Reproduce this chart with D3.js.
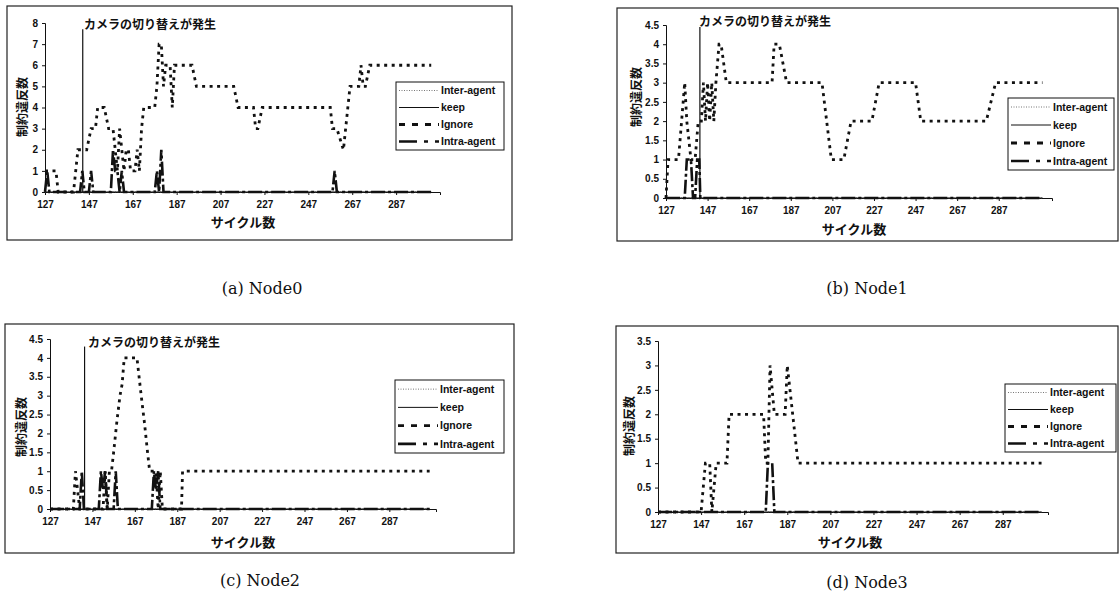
<!DOCTYPE html>
<html lang="ja">
<head>
<meta charset="utf-8">
<title>制約違反数</title>
<script src="https://cdn.jsdelivr.net/npm/d3@7"></script>
<style>
  body { margin: 0; background: #fff; }
  svg { display: block; }
  .tick text { font-family: "Liberation Sans", Arial, sans-serif; font-weight: bold; font-size: 10px; fill: #111; }
  .tick line, .domain { stroke: #111; }
</style>
</head>
<body>
<script>
var W = 1120, H = 610;

// shared labels
var xTickValues = [127, 147, 167, 187, 207, 227, 247, 267, 287];
var seriesNames = ['Inter-agent', 'keep', 'Ignore', 'Intra-agent'];
var switchText = 'カメラの切り替えが発生';
var xTitleText = 'サイクル数';
var yTitleText = '制約違反数';

// (a) Node0
var node0YTicks = [0, 1, 2, 3, 4, 5, 6, 7, 8];
var node0Ignore = [[127,1],[132,1],[133,0],[140,0],[141,1],[142,2],[146,2],[148,3],[150,3],[151,4],[154,4],[156,3],[158,3],[159,2],[160,1],[161,3],[162,2],[163,1],[164,2],[165,2],[166,1],[168,1],[169,2],[170,1],[171,3],[172,4],[177,4],[178,5],[179,7],[180,7],[181,5],[182,6],[184,6],[185,4],[186,6],[194,6],[196,5],[213,5],[215,4],[222,4],[223,3],[224,3],[226,4],[257,4],[258,3],[260,3],[263,2],[264,3],[265,4],[266,5],[270,5],[271,6],[272,5],[273,5],[275,6],[303,6]];
var node0Intra = [[127,0],[128,1],[129,0],[143,0],[144,1],[145,0],[147,0],[148,1],[149,0],[157,0],[158,2],[159,1],[160,1],[161,0],[162,1],[163,0],[177,0],[178,1],[179,0],[180,2],[181,0],[258,0],[259,1],[260,0],[303,0]];
var node0Inter = [[127,0],[303,0]];
var node0Keep = [[127,0],[303,0]];
var node0Switch = [144.2, 7.7];

// (b) Node1
var node1YTicks = [0, 0.5, 1, 1.5, 2, 2.5, 3, 3.5, 4, 4.5];
var node1Ignore = [[127,0],[128,1],[133,1],[134.5,2],[136,3],[137,2],[139,1],[141,1],[142.5,2],[144,2],[145,3],[146,2],[147,3],[148,2],[149,3],[150,2],[151,3],[152.5,4],[153.5,4],[156,3],[178,3],[179,4],[181.5,4],[185,3],[202,3],[206.5,1],[212.5,1],[216,2],[226,2],[229.5,3],[247,3],[249.5,2],[281,2],[285.5,3],[308,3]];
var node1Intra = [[127,0],[136,0],[137,1],[139,1],[140,0],[141,0],[142,1],[143,1],[143.5,0],[308,0]];
var node1Inter = [[127,0],[308,0]];
var node1Keep = [[127,0],[308,0]];
var node1Switch = [143.3, 4.45];

// (c) Node2
var node2YTicks = [0, 0.5, 1, 1.5, 2, 2.5, 3, 3.5, 4, 4.5];
var node2Ignore = [[127,0],[138,0],[139,1],[140,0.5],[141,0],[152,0],[153,1],[154,0],[155,1],[156,1],[157,1.5],[158.5,2.3],[160,3],[161,3.3],[162,4],[168,4],[170,3],[171.5,2.3],[173,1.5],[174,1],[177,1],[178,0],[179,1],[180,0],[189,0],[189.5,1],[306,1]];
var node2Intra = [[127,0],[141,0],[142,1],[143,0],[150,0],[151,1],[152,0.5],[153,1],[154,0],[157,0],[158,1],[159,0],[175,0],[176,1],[177,0.5],[178,1],[179,0],[306,0]];
var node2Inter = [[127,0],[306,0]];
var node2Keep = [[127,0],[306,0]];
var node2Switch = [143.3, 4.3];

// (d) Node3
var node3YTicks = [0, 0.5, 1, 1.5, 2, 2.5, 3, 3.5];
var node3Ignore = [[127,0],[147,0],[149,1],[151,1],[152,0],[154,1],[159,1],[160,2],[176,2],[177,1],[178,1],[179,3],[181,2],[186,2],[187,3],[192,1],[305,1]];
var node3Intra = [[127,0],[177,0],[178,1],[180,1],[181,0],[305,0]];
var node3Inter = [[127,0],[305,0]];
var node3Keep = [[127,0],[305,0]];
var node3Switch = null;

var panels = [
  { caption: '(a) Node0', frame: [7, 6, 512, 240], xr: [45, 440], xEnd: 307, yr: [192, 23], yMax: 8,
    yTicks: node0YTicks, ignore: node0Ignore, intra: node0Intra, inter: node0Inter, keep: node0Keep, sw: node0Switch,
    legend: [396, 82, 504, 150], note: [84, 25], yTitle: [23, 107], xTitle: [243, 222], cap: [262, 294] },
  { caption: '(b) Node1', frame: [617, 8, 1118, 241], xr: [666, 1052], xEnd: 312.6, yr: [198, 25], yMax: 4.5,
    yTicks: node1YTicks, ignore: node1Ignore, intra: node1Intra, inter: node1Inter, keep: node1Keep, sw: node1Switch,
    legend: [1008, 98, 1114, 170], note: [699, 22], yTitle: [637, 97], xTitle: [854, 229], cap: [867, 294] },
  { caption: '(c) Node2', frame: [5, 324, 514, 553], xr: [50, 436], xEnd: 309, yr: [509, 339], yMax: 4.5,
    yTicks: node2YTicks, ignore: node2Ignore, intra: node2Intra, inter: node2Inter, keep: node2Keep, sw: node2Switch,
    legend: [395, 380, 504, 453], note: [88, 343], yTitle: [22, 427], xTitle: [243, 542], cap: [260, 586] },
  { caption: '(d) Node3', frame: [616, 326, 1118, 553], xr: [658, 1048], xEnd: 308, yr: [512, 341], yMax: 3.5,
    yTicks: node3YTicks, ignore: node3Ignore, intra: node3Intra, inter: node3Inter, keep: node3Keep, sw: node3Switch,
    legend: [1005, 384, 1116, 452], note: null, yTitle: [630, 426], xTitle: [850, 542], cap: [867, 588] }
];

// line styles for the four series
var styles = {
  'Inter-agent': { w: 1, dash: '1,1.5', color: '#777' },
  'keep':        { w: 1, dash: null, color: '#111' },
  'Ignore':      { w: 2.8, dash: '3,4.5', color: '#111' },
  'Intra-agent': { w: 2.6, dash: '14,3,3,3', color: '#111' }
};

var jp = '"Noto Sans CJK JP", sans-serif';

var svg = d3.select('body').append('svg')
  .attr('width', W)
  .attr('height', H);

panels.forEach(function(p) {
  var g = svg.append('g');

  g.append('rect')
    .attr('x', p.frame[0]).attr('y', p.frame[1])
    .attr('width', p.frame[2] - p.frame[0])
    .attr('height', p.frame[3] - p.frame[1])
    .attr('fill', 'none')
    .attr('stroke', '#222')
    .attr('stroke-width', 1.2);

  var x = d3.scaleLinear().domain([127, p.xEnd]).range(p.xr);
  var y = d3.scaleLinear().domain([0, p.yMax]).range(p.yr);

  var xAxis = d3.axisBottom(x)
    .tickValues(xTickValues)
    .tickSize(3)
    .tickPadding(6)
    .tickFormat(d3.format('d'));
  var yAxis = d3.axisLeft(y)
    .tickValues(p.yTicks)
    .tickSize(3)
    .tickPadding(4)
    .tickFormat(function(d) { return String(d); });

  g.append('g')
    .attr('transform', 'translate(0,' + y(0) + ')')
    .call(xAxis);
  g.append('g')
    .attr('transform', 'translate(' + p.xr[0] + ',0)')
    .call(yAxis);

  var line = d3.line()
    .x(function(d) { return x(d[0]); })
    .y(function(d) { return y(d[1]); });

  var order = [['Inter-agent', p.inter], ['keep', p.keep], ['Ignore', p.ignore], ['Intra-agent', p.intra]];
  order.forEach(function(s) {
    var st = styles[s[0]];
    g.append('path')
      .datum(s[1])
      .attr('d', line)
      .attr('fill', 'none')
      .attr('stroke', st.color)
      .attr('stroke-width', st.w)
      .attr('stroke-dasharray', st.dash);
  });

  // camera switch marker
  if (p.sw) {
    g.append('line')
      .attr('x1', x(p.sw[0])).attr('x2', x(p.sw[0]))
      .attr('y1', y(0)).attr('y2', y(p.sw[1]))
      .attr('stroke', '#111')
      .attr('stroke-width', 1.2);
  }
  if (p.note) {
    g.append('text')
      .text(switchText)
      .attr('x', p.note[0]).attr('y', p.note[1])
      .attr('dy', '0.35em')
      .attr('font-family', jp)
      .attr('font-weight', 'bold')
      .attr('font-size', '12px')
      .attr('fill', '#111');
  }

  // axis titles
  g.append('text')
    .text(xTitleText)
    .attr('x', p.xTitle[0]).attr('y', p.xTitle[1])
    .attr('dy', '0.35em')
    .attr('text-anchor', 'middle')
    .attr('font-family', jp)
    .attr('font-weight', 'bold')
    .attr('font-size', '13px')
    .attr('fill', '#111');
  g.append('text')
    .text(yTitleText)
    .attr('transform', 'translate(' + p.yTitle[0] + ',' + p.yTitle[1] + ') rotate(-90)')
    .attr('dy', '0.35em')
    .attr('text-anchor', 'middle')
    .attr('font-family', jp)
    .attr('font-weight', 'bold')
    .attr('font-size', '12px')
    .attr('fill', '#111');

  // legend
  var L = p.legend;
  g.append('rect')
    .attr('x', L[0]).attr('y', L[1])
    .attr('width', L[2] - L[0]).attr('height', L[3] - L[1])
    .attr('fill', '#fff')
    .attr('stroke', '#111')
    .attr('stroke-width', 1);
  var rowH = (L[3] - L[1]) / 4;
  seriesNames.forEach(function(name, i) {
    var st = styles[name];
    var ry = L[1] + rowH * (i + 0.5);
    g.append('line')
      .attr('x1', L[0] + 3).attr('x2', L[0] + 43)
      .attr('y1', ry).attr('y2', ry)
      .attr('stroke', st.color)
      .attr('stroke-width', st.w)
      .attr('stroke-dasharray', name === 'Intra-agent' ? '18,7,4,7' : (name === 'Ignore' ? '6,7' : st.dash));
    g.append('text')
      .text(name)
      .attr('x', L[0] + 45).attr('y', ry)
      .attr('dy', '0.35em')
      .attr('font-family', '"Liberation Sans", Arial, sans-serif')
      .attr('font-weight', 'bold')
      .attr('font-size', '10.5px')
      .attr('fill', '#111');
  });

  // caption
  g.append('text')
    .text(p.caption)
    .attr('x', p.cap[0]).attr('y', p.cap[1])
    .attr('text-anchor', 'middle')
    .attr('font-family', '"DejaVu Serif", serif')
    .attr('font-size', '16px')
    .attr('fill', '#111');
});
</script>
</body>
</html>
